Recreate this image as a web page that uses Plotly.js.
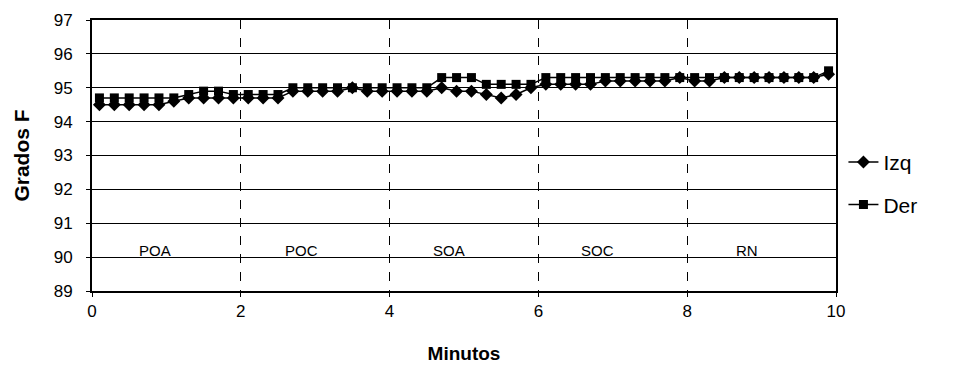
<!DOCTYPE html>
<html>
<head>
<meta charset="utf-8">
<script src="https://cdn.plot.ly/plotly-3.0.1.min.js"></script>
<style>html,body{margin:0;padding:0;background:#fff;}#chart{width:971px;height:365px;}</style>
</head>
<body>
<div id="chart"></div>
<script>
// Time in minutes
const minutes = [0.1,0.3,0.5,0.7,0.9,1.1,1.3,1.5,1.7,1.9,
                 2.1,2.3,2.5,2.7,2.9,3.1,3.3,3.5,3.7,3.9,
                 4.1,4.3,4.5,4.7,4.9,5.1,5.3,5.5,5.7,5.9,
                 6.1,6.3,6.5,6.7,6.9,7.1,7.3,7.5,7.7,7.9,
                 8.1,8.3,8.5,8.7,8.9,9.1,9.3,9.5,9.7,9.9];
const izq = [94.5,94.5,94.5,94.5,94.5,94.6,94.7,94.7,94.7,94.7,
             94.7,94.7,94.7,94.9,94.9,94.9,94.9,95.0,94.9,94.9,
             94.9,94.9,94.9,95.0,94.9,94.9,94.8,94.7,94.8,95.0,
             95.1,95.1,95.1,95.1,95.2,95.2,95.2,95.2,95.2,95.3,
             95.2,95.2,95.3,95.3,95.3,95.3,95.3,95.3,95.3,95.4];
const der = [94.7,94.7,94.7,94.7,94.7,94.7,94.8,94.9,94.9,94.8,
             94.8,94.8,94.8,95.0,95.0,95.0,95.0,95.0,95.0,95.0,
             95.0,95.0,95.0,95.3,95.3,95.3,95.1,95.1,95.1,95.1,
             95.3,95.3,95.3,95.3,95.3,95.3,95.3,95.3,95.3,95.3,
             95.3,95.3,95.3,95.3,95.3,95.3,95.3,95.3,95.3,95.5];
const phaseLabels = ["POA","POC","SOA","SOC","RN"];
const phaseX = [0.85,2.82,4.8,6.8,8.8];
const phaseY = 90.2;
const yTicks = [89,90,91,92,93,94,95,96,97];

const traces = [
  {x: minutes, y: izq, name: "Izq", legendgroup: "a", mode: "lines+markers", type: "scatter",
   line: {color: "#000", width: 1.5}, marker: {symbol: "diamond", size: 10, color: "#000"}},
  {x: minutes, y: der, name: "Der", legendgroup: "b", mode: "lines+markers", type: "scatter",
   line: {color: "#000", width: 1.5}, marker: {symbol: "square", size: 9, color: "#000"}}
];

const annotations = phaseLabels.map((t, i) => ({
  x: phaseX[i], y: phaseY, xref: "x", yref: "y", text: t, showarrow: false,
  font: {family: "Arial, Liberation Sans, sans-serif", size: 15, color: "#000"}
}));

const layout = {
  width: 971, height: 365,
  margin: {l: 92, r: 135, t: 20, b: 74},
  paper_bgcolor: "#fff", plot_bgcolor: "#fff",
  font: {family: "Arial, Liberation Sans, sans-serif", color: "#000"},
  showlegend: true,
  legend: {x: 1.01, y: 0.55, xanchor: "left", yanchor: "top",
           font: {size: 21, color: "#000"}, bgcolor: "rgba(0,0,0,0)", tracegroupgap: 12},
  xaxis: {range: [0, 10], tickvals: [0,2,4,6,8,10], ticktext: ["0","2","4","6","8","10"],
          showgrid: true, gridcolor: "#000", griddash: "dash", gridwidth: 1,
          zeroline: false, showline: true, linecolor: "#000", linewidth: 2, mirror: true,
          ticks: "outside", ticklen: 4, tickcolor: "#000",
          tickfont: {size: 17, color: "#000"},
          title: {text: "<b>Minutos</b>", font: {size: 19, color: "#000"}, standoff: 26}},
  yaxis: {range: [89, 97], tickvals: yTicks,
          showgrid: true, gridcolor: "#000", gridwidth: 1,
          zeroline: false, showline: true, linecolor: "#000", linewidth: 2, mirror: true,
          ticks: "outside", ticklen: 4, tickcolor: "#000", ticklabelstandoff: 10,
          tickfont: {size: 17, color: "#000"},
          title: {text: "<b>Grados F</b>", font: {size: 21, color: "#000"}, standoff: 18}},
  annotations: annotations
};

Plotly.newPlot("chart", traces, layout, {displayModeBar: false, staticPlot: true});
</script>
</body>
</html>
